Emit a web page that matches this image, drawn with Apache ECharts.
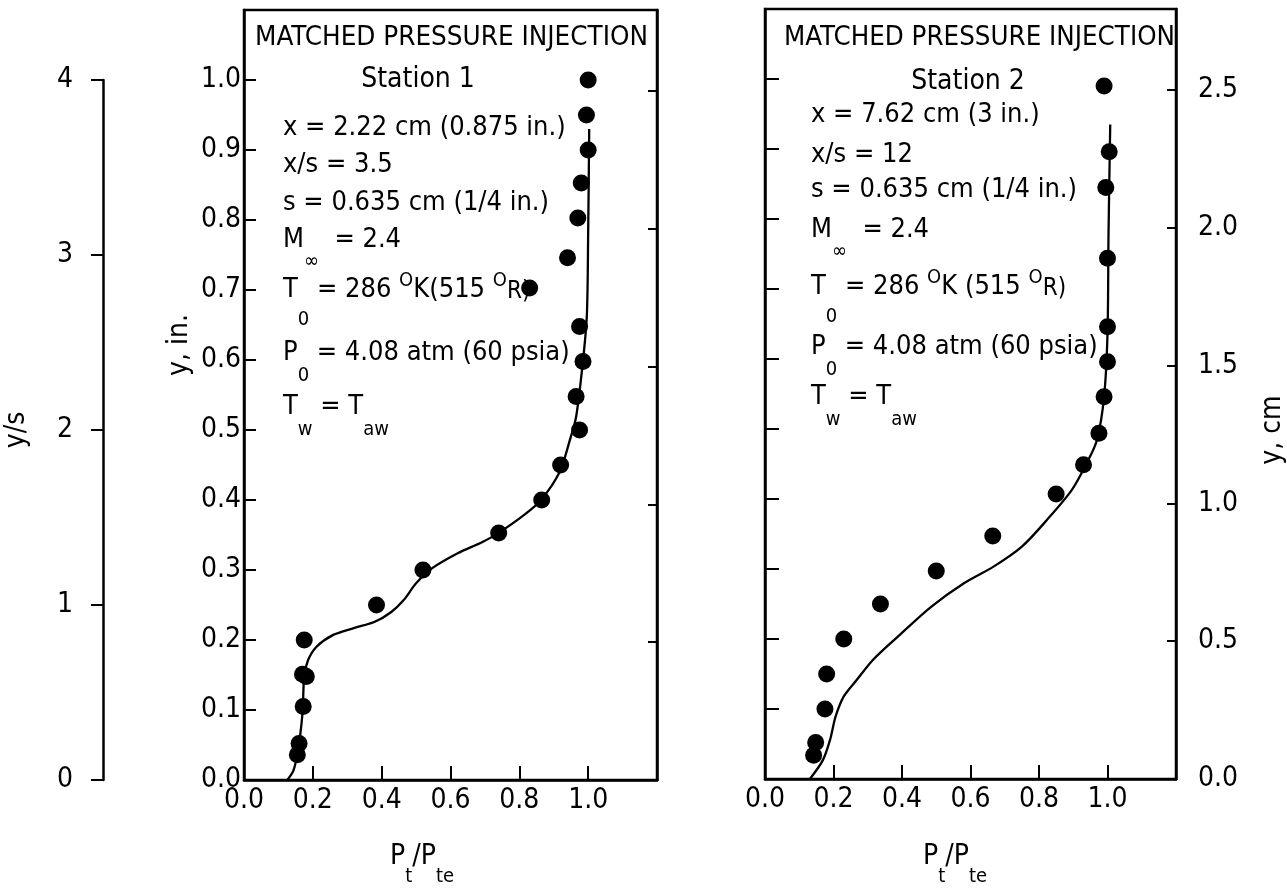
<!DOCTYPE html>
<html><head><meta charset="utf-8">
<script src="https://cdn.jsdelivr.net/npm/echarts@6/dist/echarts.min.js"></script>
<style>html,body{margin:0;padding:0;background:#fff}#c{width:1287px;height:891px}</style>
</head><body><div id="c"></div>
<script>
// ---------- DATA ----------
// Station 1 measured points (Pt/Pte, y in.)
const st1X = [1.0, 0.995, 1.0, 0.98, 0.97, 0.94, 0.83, 0.975, 0.985, 0.965, 0.975, 0.92, 0.865, 0.74, 0.52, 0.385, 0.175, 0.170, 0.181, 0.172, 0.16, 0.155];
const st1Y = [1.0, 0.95, 0.90, 0.853, 0.803, 0.746, 0.703, 0.648, 0.598, 0.548, 0.50, 0.45, 0.40, 0.353, 0.30, 0.25, 0.20, 0.151, 0.148, 0.105, 0.052, 0.036];
// Station 1 faired curve
const cur1X = [0.126, 0.144, 0.158, 0.167, 0.171, 0.175, 0.186, 0.21, 0.258, 0.319, 0.38, 0.428, 0.464, 0.50, 0.548, 0.621, 0.693, 0.74, 0.815, 0.863, 0.917, 0.947, 0.965, 0.983, 0.996, 1.0, 1.003];
const cur1Y = [0.0, 0.014, 0.045, 0.08, 0.104, 0.148, 0.171, 0.19, 0.207, 0.217, 0.226, 0.24, 0.257, 0.281, 0.303, 0.324, 0.34, 0.353, 0.379, 0.40, 0.44, 0.486, 0.519, 0.59, 0.662, 0.781, 0.93];
// Station 2 measured points
const st2X = [0.99, 1.005, 0.995, 1.0, 1.0, 1.0, 0.99, 0.975, 0.93, 0.85, 0.665, 0.50, 0.337, 0.23, 0.18, 0.175, 0.148, 0.142];
const st2Y = [0.99, 0.896, 0.845, 0.744, 0.646, 0.596, 0.546, 0.494, 0.449, 0.407, 0.347, 0.297, 0.25, 0.20, 0.15, 0.10, 0.052, 0.034];
// Station 2 faired curve
const cur2X = [0.131, 0.169, 0.19, 0.206, 0.23, 0.267, 0.315, 0.387, 0.485, 0.582, 0.666, 0.75, 0.823, 0.896, 0.939, 0.969, 0.99, 1.0, 1.003, 1.008];
const cur2Y = [0.0, 0.027, 0.056, 0.089, 0.118, 0.141, 0.17, 0.203, 0.246, 0.28, 0.303, 0.332, 0.37, 0.413, 0.451, 0.484, 0.546, 0.636, 0.78, 0.935];
// Tick labels
const xTicks = [0, 0.2, 0.4, 0.6, 0.8, 1.0];
const yInTicks = [0, 0.1, 0.2, 0.3, 0.4, 0.5, 0.6, 0.7, 0.8, 0.9, 1.0];
const yCmTicks = [0, 0.5, 1.0, 1.5, 2.0, 2.5];
const ysTicks = [0, 1, 2, 3, 4];
// Texts
const titleText = 'MATCHED PRESSURE INJECTION';
const stationNames = ['Station 1', 'Station 2'];
const xLine = ['x = 2.22 cm (0.875 in.)', 'x = 7.62 cm (3 in.)'];
const xsLine = ['x/s = 3.5', 'x/s = 12'];
const sLine = 's = 0.635 cm (1/4 in.)';

// ---------- RENDER ----------
const FONT = '"Liberation Sans Narrow","DejaVu Sans Condensed","Liberation Sans",sans-serif';
const zip = (a, b) => a.map((v, i) => [v, b[i]]);
const ctx = document.createElement('canvas').getContext('2d');
function tw(t, sz) { ctx.font = sz + 'px ' + FONT; return ctx.measureText(t).width; }
function txt(t, x, y, sz, opt) {
  opt = opt || {};
  return Object.assign({
    type: 'text', x: x, y: y, silent: true, z: 50,
    style: { text: t, font: sz + 'px ' + FONT, fill: '#000',
      align: opt.align || 'left', verticalAlign: 'middle',
      textAlign: opt.align || 'left', textVerticalAlign: 'middle' }
  }, opt.extra || {});
}
function compose(x, y, parts) {
  const els = []; let cx = x;
  parts.forEach(p => { const [t, dy, sz] = p; els.push(txt(t, cx, y + dy, sz)); cx += tw(t, sz); });
  return els;
}
const M = 28, I = 27, SUB = 20;
function infoBlock(x0, ys, i) {
  let e = [];
  e.push(txt(xLine[i], x0, ys[0], I));
  e.push(txt(xsLine[i], x0, ys[1], I));
  e.push(txt(sLine, x0, ys[2], I));
  e = e.concat(compose(x0, ys[3], [['M', 0, I], ['\u221E', 22, SUB], ['  = 2.4', 0, I]]));
  e = e.concat(compose(x0, ys[4], [['T', 0, I], ['0', 30, SUB], [' = 286 ', 0, I], ['O', -9, SUB], [i === 0 ? 'K(515 ' : 'K (515 ', 0, I], ['O', -9, SUB], ['R)', 2, 24]]));
  e = e.concat(compose(x0, ys[5], [['P', 0, I], ['0', 23, SUB], [' = 4.08 atm (60 psia)', 0, I]]));
  e = e.concat(compose(x0, ys[6], [['T', 0, I], ['w', 23, SUB], [' = T', 0, I], ['aw', 23, SUB]]));
  return e;
}
function titleEl(x, y, w) {
  const sz = 26;
  return txt(titleText, x, y, sz, { extra: { scaleX: w / tw(titleText, sz), originX: 0, originY: 0 } });
}
let graphics = [];
graphics.push(titleEl(255, 38, 393));
graphics.push(titleEl(784, 38, 391));
graphics.push(txt(stationNames[0], 418, 80, M, { align: 'center' }));
graphics.push(txt(stationNames[1], 968, 82, M, { align: 'center' }));
graphics = graphics.concat(infoBlock(283, [128, 165, 203, 240, 290, 353, 407], 0));
graphics = graphics.concat(infoBlock(811, [115, 155, 190, 230, 287, 347, 397], 1));
graphics.push(txt('y, in.', 180, 345, M, { align: 'center', extra: { rotation: Math.PI / 2 } }));
graphics.push(txt('y, cm', 1273, 430, M, { align: 'center', extra: { rotation: Math.PI / 2 } }));
[390, 923].forEach(x0 => {
  graphics = graphics.concat(compose(x0, 857, [['P', 0, M], ['t', 20, SUB], ['/P', 0, M], ['te', 20, SUB]]));
});

const axisTextStyle = { color: '#000', fontSize: M, fontFamily: FONT };
const fmt1 = v => v.toFixed(1);
function xAx(g) {
  return { type: 'value', gridIndex: g, min: 0, max: 1.2, interval: 0.2,
    axisLine: { show: true, onZero: false, lineStyle: { color: '#000', width: 2.5 } },
    axisTick: { show: true, inside: true, length: 14, customValues: xTicks, lineStyle: { color: '#000', width: 2 } },
    axisLabel: Object.assign({ customValues: xTicks, formatter: fmt1, margin: 7 }, axisTextStyle),
    splitLine: { show: false } };
}
function yInAx(g, labels) {
  return { type: 'value', gridIndex: g, min: 0, max: 1.1, interval: 0.1, position: 'left',
    axisLine: { show: true, onZero: false, lineStyle: { color: '#000', width: 2.5 } },
    axisTick: { show: true, inside: true, length: labels ? 12 : 14, customValues: yInTicks, lineStyle: { color: '#000', width: 2 } },
    axisLabel: Object.assign({ show: labels, customValues: yInTicks, formatter: fmt1, margin: 3 }, axisTextStyle),
    splitLine: { show: false } };
}
function yCmAx(g, labels) {
  return { type: 'value', gridIndex: g, min: 0, max: 1.1 * 2.54, position: 'right',
    axisLine: { show: true, onZero: false, lineStyle: { color: '#000', width: 2.5 } },
    axisTick: { show: true, inside: true, length: 9, customValues: yCmTicks, lineStyle: { color: '#000', width: 2 } },
    axisLabel: Object.assign({ show: labels, customValues: yCmTicks, formatter: fmt1, margin: 22 }, axisTextStyle),
    splitLine: { show: false } };
}

const chart = echarts.init(document.getElementById('c'));
chart.setOption({
  backgroundColor: '#fff',
  animation: false,
  grid: [
    { left: 244, top: 10, width: 413, height: 770, show: true, borderColor: '#000', borderWidth: 2.5, backgroundColor: 'transparent', outerBoundsMode: 'none' },
    { left: 765, top: 9, width: 411, height: 770, show: true, borderColor: '#000', borderWidth: 2.5, backgroundColor: 'transparent', outerBoundsMode: 'none' },
    { left: 103, top: 80, width: 1, height: 700, show: false, outerBoundsMode: 'none' }
  ],
  xAxis: [xAx(0), xAx(1), { type: 'value', gridIndex: 2, show: false, min: 0, max: 1 }],
  yAxis: [
    yInAx(0, true), yCmAx(0, false),
    yInAx(1, false), yCmAx(1, true),
    { type: 'value', gridIndex: 2, min: 0, max: 4, interval: 1, position: 'left',
      name: 'y/s', nameLocation: 'middle', nameGap: 72, nameRotate: 90,
      nameTextStyle: { color: '#000', fontSize: M, fontFamily: FONT },
      axisLine: { show: true, onZero: false, lineStyle: { color: '#000', width: 2.5 } },
      axisTick: { show: true, inside: false, length: 12, customValues: ysTicks, lineStyle: { color: '#000', width: 2 } },
      axisLabel: Object.assign({ margin: 30, customValues: ysTicks }, axisTextStyle),
      splitLine: { show: false } }
  ],
  series: [
    { type: 'line', xAxisIndex: 0, yAxisIndex: 0, data: zip(cur1X, cur1Y), smooth: 0.3, showSymbol: false,
      lineStyle: { color: '#000', width: 2.3 }, silent: true },
    { type: 'scatter', xAxisIndex: 0, yAxisIndex: 0, data: zip(st1X, st1Y), symbolSize: 17,
      itemStyle: { color: '#000', opacity: 1 }, silent: true, z: 5 },
    { type: 'line', xAxisIndex: 1, yAxisIndex: 2, data: zip(cur2X, cur2Y), smooth: 0.3, showSymbol: false,
      lineStyle: { color: '#000', width: 2.3 }, silent: true },
    { type: 'scatter', xAxisIndex: 1, yAxisIndex: 2, data: zip(st2X, st2Y), symbolSize: 17,
      itemStyle: { color: '#000', opacity: 1 }, silent: true, z: 5 }
  ],
  graphic: graphics
});
</script></body></html>
